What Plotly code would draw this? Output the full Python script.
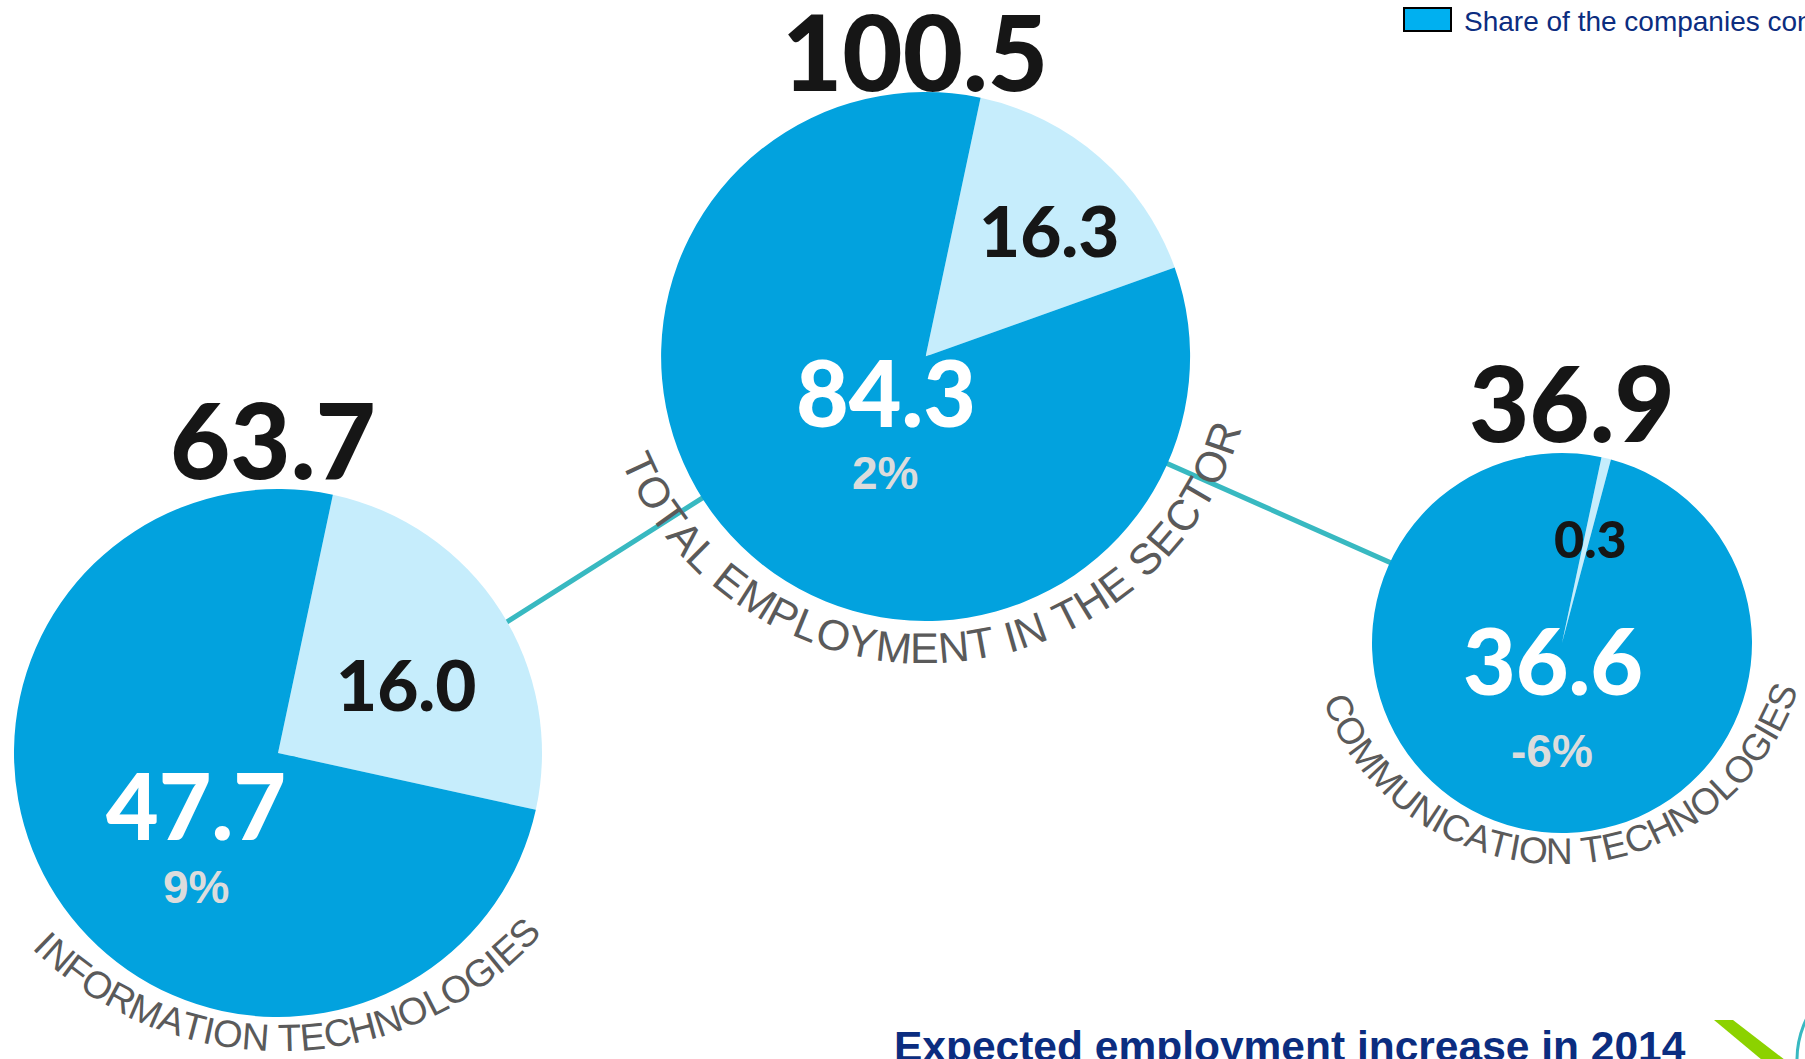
import math
import plotly.graph_objects as go

# ---------------- data ----------------
categories = ["INFORMATION TECHNOLOGIES",
              "TOTAL EMPLOYMENT IN THE SECTOR",
              "COMMUNICATION TECHNOLOGIES"]
totals = [63.7, 100.5, 36.9]
share_values = [47.7, 84.3, 36.6]     # dark blue slice
other_values = [16.0, 16.3, 0.3]      # light blue slice
growth_pct = [9, 2, -6]
legend_label = "Share of the companies con"
footer_title = "Expected employment increase in 2014"

# ---------------- layout / style ----------------
W, H = 1805, 1059
DARK = "#02A2DE"
LIGHT = "#C6EDFC"
TEAL = "#38B9C1"
GRAY = "#5A5A5A"
NAVY = "#0B2D80"
NUM_FONT = "Lato, Roboto, 'DejaVu Sans', sans-serif"
TXT_FONT = "'Liberation Sans', Arial, sans-serif"

pie_center = [(278, 753), (925.6, 356.5), (1562, 643)]
pie_radius = [264, 264.5, 190]
connector_pts = [(278, 767), (925.6, 356.5), (1562, 638.7)]

total_pos = [(273, 438), (915, 51), (1572, 401)]
other_pos = [(406, 683), (1049, 230), (1590, 538)]
other_size = [71, 71, 52]
share_pos = [(196, 804), (886, 391), (1553, 659)]
growth_pos = [(196, 887), (885, 473), (1552, 751)]

# curved label arcs: center x, center y, radius, start angle, end angle, font size
arc_spec = [(280.3, 700.6, 337.7, -44.2, 46.4, 38),
            (925.4, 333.8, 314.7, -65.0, 70.7, 43),
            (1558.6, 612.4, 239.4, -66.5, 69.6, 37)]

CHAR_W = {'A': 667, 'B': 667, 'C': 722, 'D': 722, 'E': 667, 'F': 611, 'G': 778,
          'H': 722, 'I': 278, 'J': 500, 'K': 667, 'L': 556, 'M': 833, 'N': 722,
          'O': 778, 'P': 667, 'Q': 778, 'R': 722, 'S': 667, 'T': 611, 'U': 722,
          'V': 667, 'W': 944, 'X': 667, 'Y': 667, 'Z': 611, ' ': 278}


def fx(x):
    return x / W


def fy(y):
    return 1 - y / H


fig = go.Figure()

# connector lines (under the pies)
fig.add_trace(go.Scatter(
    x=[p[0] for p in connector_pts], y=[p[1] for p in connector_pts],
    mode="lines", line=dict(color=TEAL, width=5), hoverinfo="skip",
    showlegend=False))

for i in range(len(categories)):
    cx, cy = pie_center[i]
    r = pie_radius[i]
    fig.add_trace(go.Pie(
        values=[other_values[i], share_values[i]],
        labels=["Other", legend_label],
        marker=dict(colors=[LIGHT, DARK], line=dict(width=0)),
        sort=False, direction="clockwise", rotation=12,
        textinfo="none", hoverinfo="label+value", showlegend=False,
        domain=dict(x=[fx(cx - r), fx(cx + r)], y=[fy(cy + r), fy(cy - r)]),
        name=categories[i]))

annotations = []


def add_text(x, y, text, size, color, family, weight="normal", angle=0,
             xanchor="center"):
    annotations.append(dict(
        x=fx(x), y=fy(y), xref="paper", yref="paper", text=text,
        showarrow=False, textangle=angle, xanchor=xanchor, yanchor="middle",
        font=dict(family=family, size=size, color=color, weight=weight)))


for i in range(len(categories)):
    add_text(*total_pos[i], f"{totals[i]:.1f}", 104, "#161616", NUM_FONT, 900)
    add_text(*other_pos[i], f"{other_values[i]:.1f}", other_size[i], "#161616",
             NUM_FONT, 900)
    add_text(*share_pos[i], f"{share_values[i]:.1f}", 91, "white", NUM_FONT, 900)
    add_text(*growth_pos[i], f"{growth_pct[i]}%", 46, "#DCDCDC", TXT_FONT, "bold")

    # curved category label
    text = categories[i]
    acx, acy, R, th0, th1, fs = arc_spec[i]
    cum, s = [], 0
    for ch in text:
        w = CHAR_W.get(ch, 600)
        cum.append(s + w / 2)
        s += w
    a, b = cum[0], cum[-1]
    for ch, c in zip(text, cum):
        if ch == " ":
            continue
        th = th0 + (c - a) / (b - a) * (th1 - th0)
        t = math.radians(th)
        add_text(acx + R * math.sin(t), acy + R * math.cos(t), ch, fs, GRAY,
                 TXT_FONT, angle=-th)

# legend entry (top right)
add_text(1462, 21, legend_label, 28, NAVY, TXT_FONT, xanchor="left")
# footer title (cut at bottom)
add_text(892, 1046, footer_title, 42.5, NAVY, TXT_FONT, "bold", xanchor="left")

shapes = [
    dict(type="rect", xref="paper", yref="paper", x0=fx(1404), x1=fx(1451),
         y0=fy(31), y1=fy(8), fillcolor="#00B0F0",
         line=dict(color="black", width=2)),
    dict(type="path", xref="x", yref="y",
         path="M1714,1020 L1733,1020 L1798,1070 L1774,1070 Z",
         fillcolor="#8CD200", line=dict(width=0)),
    dict(type="circle", xref="x", yref="y", x0=1797, x1=1985, y0=966, y1=1154,
         line=dict(color=TEAL, width=3)),
]

fig.update_layout(
    width=W, height=H, margin=dict(l=0, r=0, t=0, b=0),
    paper_bgcolor="white", plot_bgcolor="white", showlegend=False,
    xaxis=dict(range=[0, W], visible=False, fixedrange=True),
    yaxis=dict(range=[H, 0], visible=False, fixedrange=True),
    annotations=annotations, shapes=shapes)

fig.write_html(
    "out.html",
    config={"displayModeBar": False},
    post_script="document.body.style.margin='0';"
                "document.body.style.padding='0';"
                "document.body.style.overflow='hidden';")
